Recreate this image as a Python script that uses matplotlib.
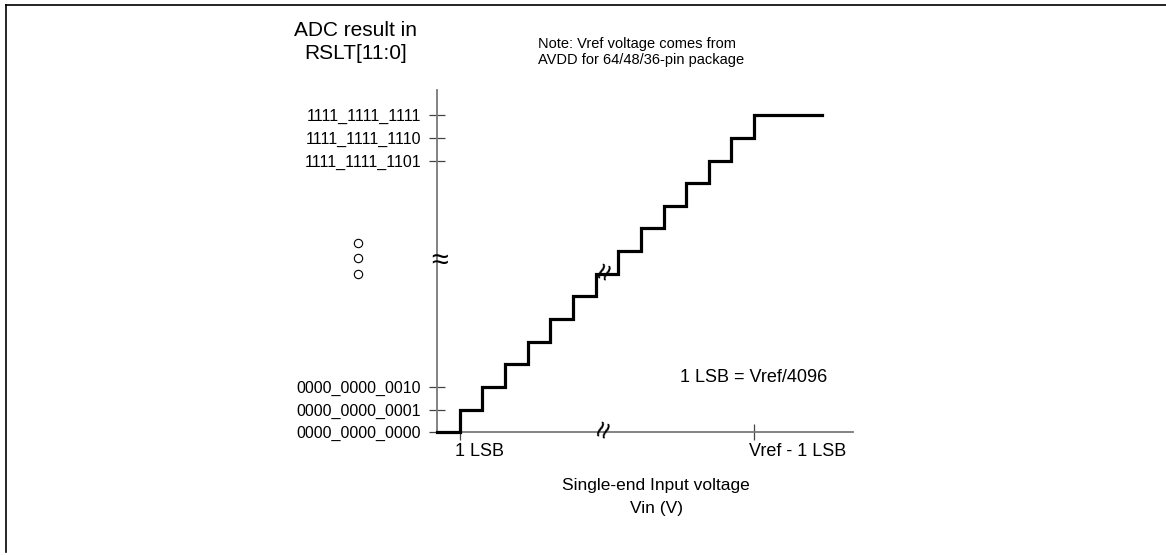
import matplotlib.pyplot as plt
from matplotlib.lines import Line2D

plt.rcParams['font.family'] = ['Liberation Sans', 'DejaVu Sans']

# Transfer curve data (in LSB units)
codes = list(range(15)) + [14]
vin = list(range(15)) + [17]
ytick_pos = [0, 1, 2, 12, 13, 14]
ytick_labels = ["0000_0000_0000", "0000_0000_0001", "0000_0000_0010",
                "1111_1111_1101", "1111_1111_1110", "1111_1111_1111"]
xtick_pos = [1, 14]
xtick_labels = ["1 LSB", "Vref - 1 LSB"]

W, H = 1166, 555
X0, Y0, U = 437, 432.3, 22.65   # pixel origin and pixels per LSB


def d(px, py):
    # pixel position -> data units
    return (px - X0) / U, (Y0 - py) / U


fig = plt.figure(figsize=(W / 100, H / 100), dpi=100)
ax = fig.add_axes([0, 0, 1, 1])
ax.set_xlim(-X0 / U, (W - X0) / U)
ax.set_ylim(-(H - Y0) / U, Y0 / U)

gray = "#7a7a7a"
for s in ["top", "right"]:
    ax.spines[s].set_visible(False)
ax.spines["left"].set_position(("data", 0))
ax.spines["bottom"].set_position(("data", 0))
ax.spines["left"].set_bounds(0, d(0, 90)[1])
ax.spines["bottom"].set_bounds(0, d(853, 0)[0])
for s in ["left", "bottom"]:
    ax.spines[s].set_color(gray)
    ax.spines[s].set_linewidth(1.3)

ax.set_yticks(ytick_pos)
ax.set_yticklabels(ytick_labels)
ax.set_xticks(xtick_pos)
ax.set_xticklabels([])
ax.tick_params(direction="inout", length=11, width=0.9, color="#444444",
               labelsize=11.5, pad=6)
ax.tick_params(axis="y", pad=6)

for xp, lab in zip(xtick_pos, xtick_labels):
    ax.text(xp - 5 / U, d(0, 451)[1], lab, ha="left", va="center", fontsize=13)

ax.step(vin, codes, where="post", color="black", lw=2.3, zorder=3,
        solid_joinstyle="miter")

# break marks
bx, by = d(440, 261)
ax.text(bx, by, "\u2248", ha="center", va="center", fontsize=22, zorder=4)
bx, by = d(605, 430)
ax.text(bx, by, "\u2248", ha="center", va="center", fontsize=22, rotation=70,
        zorder=4)
bx, by = d(606, 272)
ax.text(bx, by, "\u2248", ha="center", va="center", fontsize=22, rotation=70,
        zorder=5)

# vertical ellipsis
for py in [243, 258, 274]:
    cx, cy = d(358, py)
    ax.plot(cx, cy, "o", ms=6, mfc="none", mec="black", mew=0.8)

# texts
tx, ty = d(356, 42)
ax.text(tx, ty, "ADC result in\nRSLT[11:0]", ha="center", va="center",
        fontsize=15, linespacing=1.25)
tx, ty = d(538, 52)
ax.text(tx, ty, "Note: Vref voltage comes from\nAVDD for 64/48/36-pin package",
        ha="left", va="center", fontsize=10.5, linespacing=1.15)
tx, ty = d(680, 377)
ax.text(tx, ty, "1 LSB = Vref/4096", ha="left", va="center", fontsize=13)
tx, ty = d(656, 497)
ax.text(tx, ty, "Single-end Input voltage\nVin (V)", ha="center", va="center",
        fontsize=12.5, linespacing=1.6)

# frame of the screenshot
fig.add_artist(Line2D([6 / W, 6 / W], [1 - 5 / H, 1 - 552 / H], color="black",
                      lw=1.2))
fig.add_artist(Line2D([6 / W, 1.0], [1 - 5 / H, 1 - 5 / H], color="black",
                      lw=1.2))

fig.savefig("out.png", dpi=100)
